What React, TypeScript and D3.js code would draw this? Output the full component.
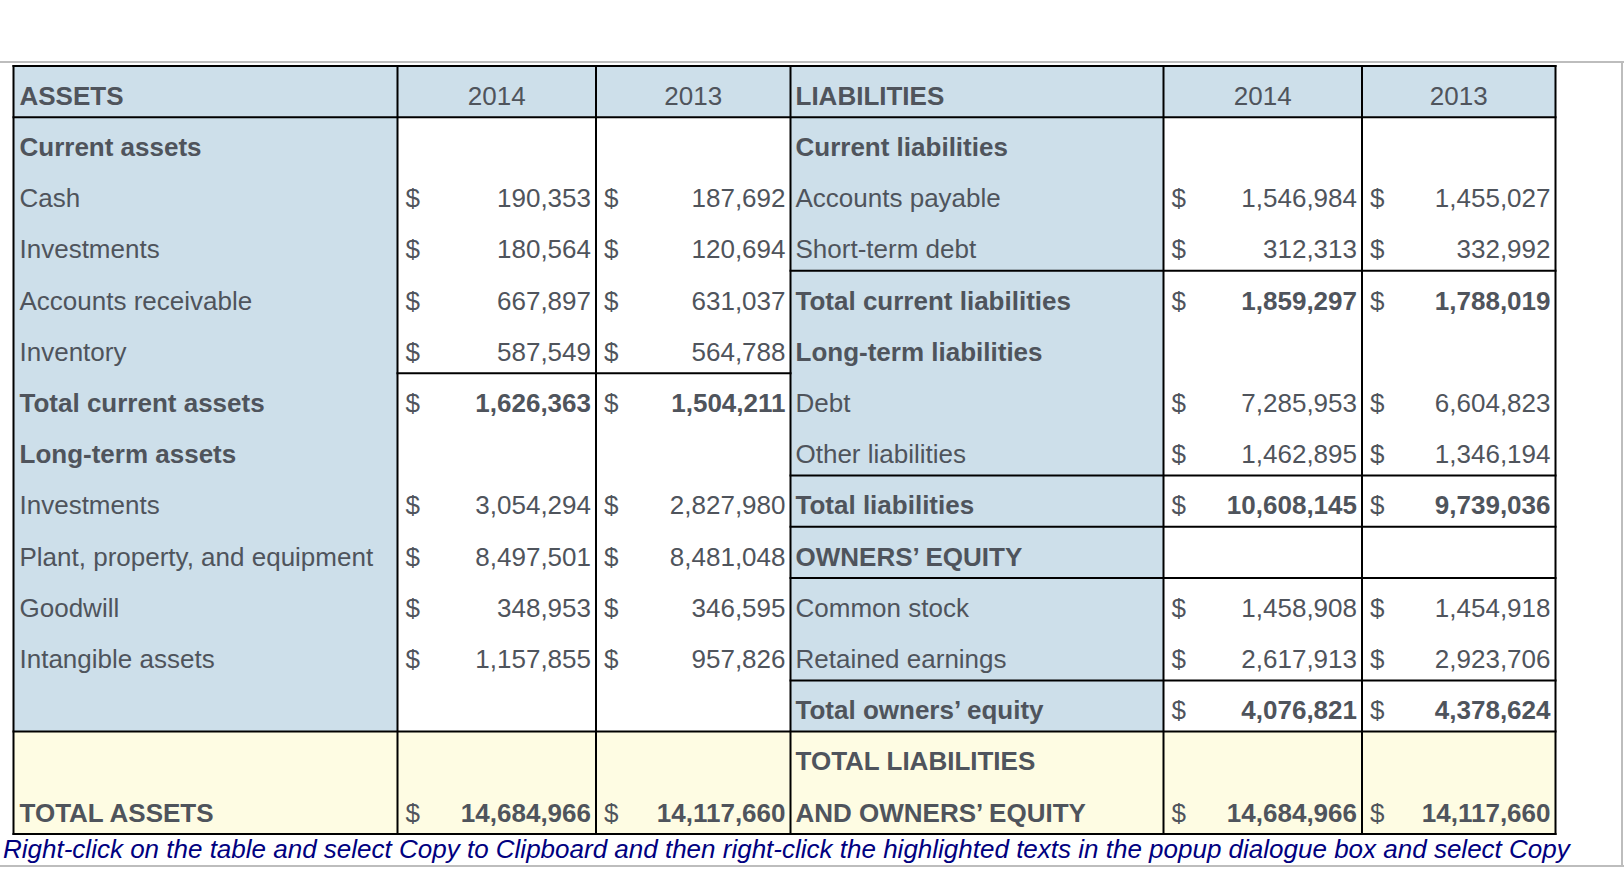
import React from "react";
import * as d3 from "d3";

// ---- data ----
const years = ["2014", "2013"];
const assetLabels = [
  "Current assets", "Cash", "Investments", "Accounts receivable", "Inventory",
  "Total current assets", "Long-term assets", "Investments",
  "Plant, property, and equipment", "Goodwill", "Intangible assets", "",
];
const assets2014: (number | null)[] = [null, 190353, 180564, 667897, 587549, 1626363, null, 3054294, 8497501, 348953, 1157855, null];
const assets2013: (number | null)[] = [null, 187692, 120694, 631037, 564788, 1504211, null, 2827980, 8481048, 346595, 957826, null];
const assetBold = [true, false, false, false, false, true, true, false, false, false, false, false];

const liabLabels = [
  "Current liabilities", "Accounts payable", "Short-term debt", "Total current liabilities",
  "Long-term liabilities", "Debt", "Other liabilities", "Total liabilities",
  "OWNERS\u2019 EQUITY", "Common stock", "Retained earnings", "Total owners\u2019 equity",
];
const liab2014: (number | null)[] = [null, 1546984, 312313, 1859297, null, 7285953, 1462895, 10608145, null, 1458908, 2617913, 4076821];
const liab2013: (number | null)[] = [null, 1455027, 332992, 1788019, null, 6604823, 1346194, 9739036, null, 1454918, 2923706, 4378624];
const liabBold = [true, false, false, true, true, false, false, true, true, false, false, true];

const totalAssets = [14684966, 14117660];
const totalLiabEquity = [14684966, 14117660];
const footer = "Right-click on the table and select Copy to Clipboard and then right-click the highlighted texts in the popup dialogue box and select Copy";

// ---- layout ----
const W = 1624, H = 891;
const colEdges = [13.5, 397.5, 596, 790.5, 1163.5, 1362, 1555.5];
const y = d3.scaleLinear().domain([0, 15]).range([66, 834]);
const fmt = d3.format(",");
const BLUE = "#cddfea";
const YELLOW = "#fefce3";
const TXT = "#4f545c";
const FONT = "'Liberation Sans', Arial, Helvetica, sans-serif";
const FS = 26;

export default function App() {
  const base = (r: number) => y(r + 1) - 12.5;
  const els: React.ReactNode[] = [];

  // backgrounds
  els.push(<rect key="hdr" x={colEdges[0]} y={y(0)} width={colEdges[6] - colEdges[0]} height={y(1) - y(0)} fill={BLUE} />);
  els.push(<rect key="lab0" x={colEdges[0]} y={y(1)} width={colEdges[1] - colEdges[0]} height={y(13) - y(1)} fill={BLUE} />);
  els.push(<rect key="lab3" x={colEdges[3]} y={y(1)} width={colEdges[4] - colEdges[3]} height={y(13) - y(1)} fill={BLUE} />);
  els.push(<rect key="tot" x={colEdges[0]} y={y(13)} width={colEdges[6] - colEdges[0]} height={y(15) - y(13)} fill={YELLOW} />);

  // header texts
  const headT = (key: string, x: number, t: string, anchor: string, bold: boolean) =>
    els.push(<text key={key} x={x} y={base(0)} textAnchor={anchor} fontWeight={bold ? "bold" : "normal"}>{t}</text>);
  headT("hA", colEdges[0] + 6, "ASSETS", "start", true);
  headT("hL", colEdges[3] + 5, "LIABILITIES", "start", true);
  [1, 2, 4, 5].forEach((c, i) => headT("hy" + c, (colEdges[c] + colEdges[c + 1]) / 2, years[i % 2], "middle", false));

  const valueCell = (key: string, c: number, r: number, v: number | null, bold: boolean) => {
    if (v == null) return;
    els.push(<text key={key + "d"} x={colEdges[c] + 8} y={base(r)}>$</text>);
    els.push(<text key={key + "v"} x={colEdges[c + 1] - 5} y={base(r)} textAnchor="end" fontWeight={bold ? "bold" : "normal"}>{fmt(v)}</text>);
  };

  assetLabels.forEach((lab, i) => {
    const r = i + 1;
    els.push(<text key={"al" + i} x={colEdges[0] + 6} y={base(r)} fontWeight={assetBold[i] ? "bold" : "normal"}>{lab}</text>);
    valueCell("a14" + i, 1, r, assets2014[i], assetBold[i]);
    valueCell("a13" + i, 2, r, assets2013[i], assetBold[i]);
  });
  liabLabels.forEach((lab, i) => {
    const r = i + 1;
    els.push(<text key={"ll" + i} x={colEdges[3] + 5} y={base(r)} fontWeight={liabBold[i] ? "bold" : "normal"}>{lab}</text>);
    valueCell("l14" + i, 4, r, liab2014[i], liabBold[i]);
    valueCell("l13" + i, 5, r, liab2013[i], liabBold[i]);
  });

  // totals
  els.push(<text key="ta" x={colEdges[0] + 6} y={base(14)} fontWeight="bold">TOTAL ASSETS</text>);
  valueCell("ta14", 1, 14, totalAssets[0], true);
  valueCell("ta13", 2, 14, totalAssets[1], true);
  els.push(<text key="tl1" x={colEdges[3] + 5} y={base(13)} fontWeight="bold">TOTAL LIABILITIES</text>);
  els.push(<text key="tl2" x={colEdges[3] + 5} y={base(14)} fontWeight="bold">AND OWNERS{"\u2019"} EQUITY</text>);
  valueCell("tl14", 4, 14, totalLiabEquity[0], true);
  valueCell("tl13", 5, 14, totalLiabEquity[1], true);

  // lines
  const hl = (key: string, r: number, c0: number, c1: number) =>
    els.push(<line key={key} x1={colEdges[c0] - 1} x2={colEdges[c1] + 1} y1={y(r)} y2={y(r)} stroke="#000" strokeWidth={2} />);
  hl("h0", 0, 0, 6);
  hl("h1", 1, 0, 6);
  hl("h6", 6, 1, 3);
  [4, 8, 9, 10, 12].forEach((r) => hl("hr" + r, r, 3, 6));
  hl("h13", 13, 0, 6);
  hl("h15", 15, 0, 6);
  colEdges.forEach((x, i) =>
    els.push(<line key={"v" + i} x1={x} x2={x} y1={y(0) - 1} y2={y(15) + 1} stroke="#000" strokeWidth={2} />)
  );

  return (
    <svg width={W} height={H} style={{ position: "fixed", left: 0, top: 0, background: "#fff" }} fontFamily={FONT} fontSize={FS} fill={TXT}>
      <line x1={0} x2={W} y1={62} y2={62} stroke="#bdbdbd" strokeWidth={2} />
      <line x1={W - 2} x2={W - 2} y1={62} y2={866} stroke="#bdbdbd" strokeWidth={2} />
      <line x1={0} x2={W} y1={866} y2={866} stroke="#bdbdbd" strokeWidth={2} />
      {els}
      <text x={3} y={858} fontStyle="italic" fontSize={26} fill="#000080">{footer}</text>
    </svg>
  );
}
